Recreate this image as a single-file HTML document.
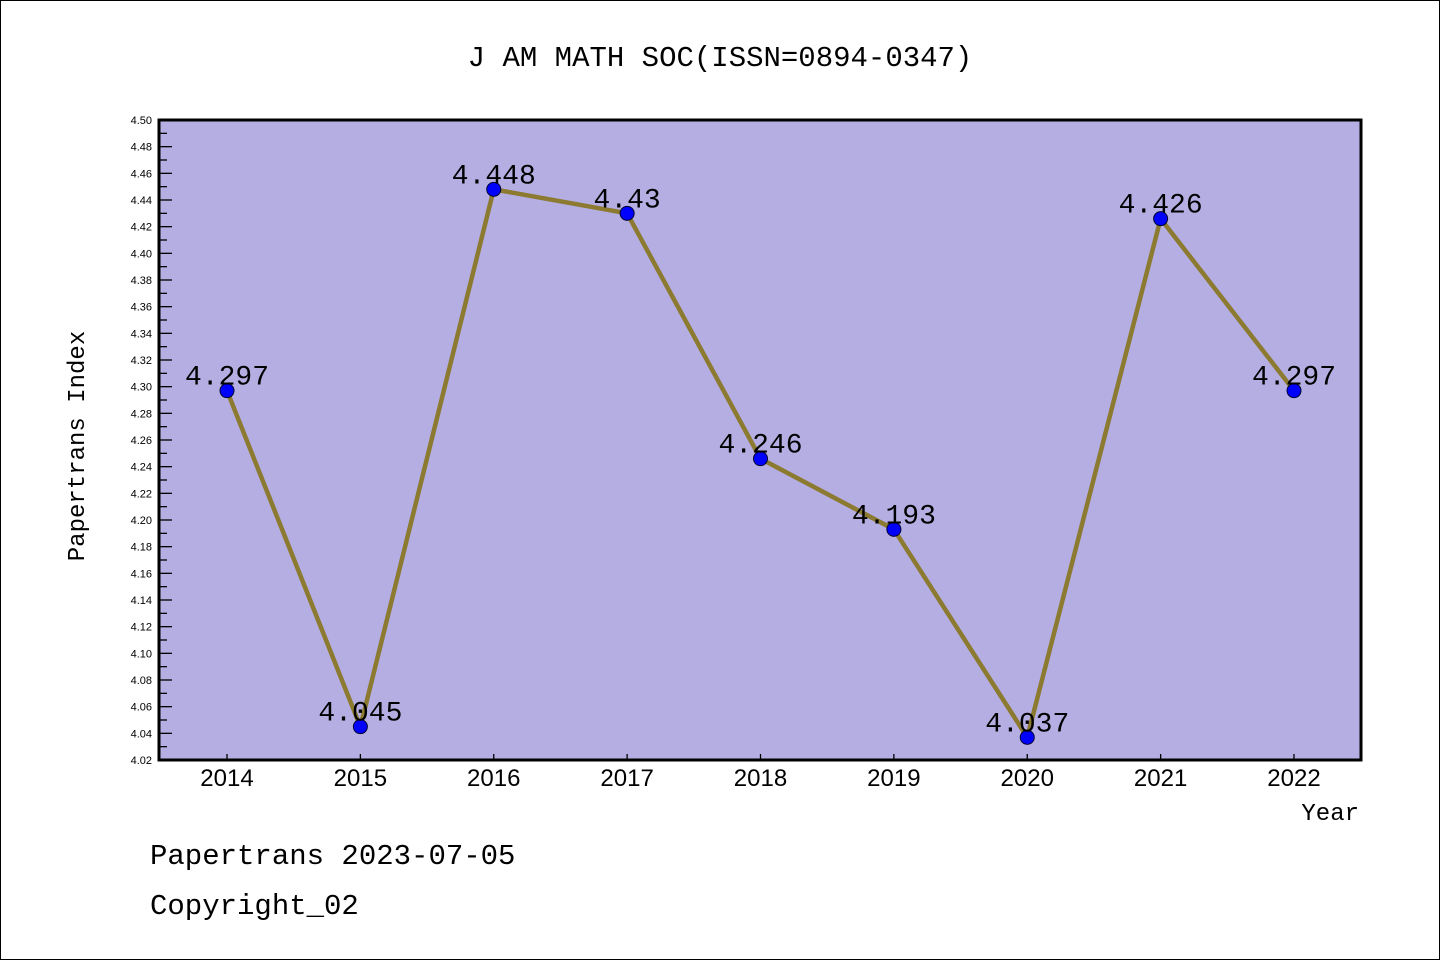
<!DOCTYPE html>
<html><head><meta charset="utf-8"><style>
body{margin:0;background:#fff}
svg{display:block;font-family:"Liberation Mono","DejaVu Sans Mono",monospace}
</style></head><body>
<svg width="1440" height="960" viewBox="0 0 1440 960">
<rect x="0.5" y="0.5" width="1439" height="959" fill="#fff" stroke="#000"/>
<text x="720" y="66" font-size="29" text-anchor="middle">J AM MATH SOC(ISSN=0894-0347)</text>
<rect x="159" y="120" width="1202" height="640" fill="#b5aee2"/>
<g id="yticks"></g><g id="xticks"></g>
<g id="series"></g>
<rect x="159" y="120" width="1202" height="640" fill="none" stroke="#000" stroke-width="3"/>
<text transform="translate(84,446) rotate(-90)" font-size="24" text-anchor="middle">Papertrans Index</text>
<text x="1359" y="820" font-size="24" text-anchor="end">Year</text>
<text x="150" y="864" font-size="29">Papertrans 2023-07-05</text>
<text x="150" y="914" font-size="29">Copyright_02</text>
</svg>
<script>
const years=["2014","2015","2016","2017","2018","2019","2020","2021","2022"];
const values=[4.297,4.045,4.448,4.43,4.246,4.193,4.037,4.426,4.297];
const valueLabels=["4.297","4.045","4.448","4.43","4.246","4.193","4.037","4.426","4.297"];
const yMin=4.02,yMax=4.50;
const NS="http://www.w3.org/2000/svg";
const L=159,R=1361,T=120,B=760;
function ys(v){return B-(v-yMin)/(yMax-yMin)*(B-T);}
function xs(i){return 227+i*(1294-227)/(years.length-1);}
function mk(t,a,p){const e=document.createElementNS(NS,t);for(const k in a)e.setAttribute(k,a[k]);p.appendChild(e);return e;}
const yt=document.getElementById('yticks');
for(let k=0;k<=48;k++){const v=yMin+k*0.01,y=ys(v),major=k%2===0;
const l=mk('line',{x1:L,x2:L+(major?13:8),y1:y,y2:y,stroke:'#000','stroke-width':1.3},yt);


if(major){const t=mk('text',{x:152,y:y+4,'font-size':11,'text-anchor':'end','font-family':'Liberation Sans, sans-serif'},yt);t.textContent=v.toFixed(2);

}}
const xt=document.getElementById('xticks');
years.forEach((yr,i)=>{const x=xs(i);
const l=mk('line',{x1:x,x2:x,y1:B,y2:B-6,stroke:'#000','stroke-width':1.3},xt);


const t=mk('text',{x:x,y:786,'font-size':24,'text-anchor':'middle','font-family':'Liberation Sans, sans-serif'},xt);t.textContent=yr;

});
const s=document.getElementById('series');
const pl=mk('polyline',{points:values.map((v,i)=>xs(i)+','+ys(v)).join(' '),fill:'none',stroke:'#8b7a30','stroke-width':4.5,'stroke-linejoin':'round'},s);


values.forEach((v,i)=>{
const c=mk('circle',{cx:xs(i),cy:ys(v),r:7,fill:'#0000ff',stroke:'#000033','stroke-width':1},s);


const t=mk('text',{x:xs(i),y:ys(v)-6,'font-size':28,'text-anchor':'middle'},s);t.textContent=valueLabels[i];

});
</script>
</body></html>
